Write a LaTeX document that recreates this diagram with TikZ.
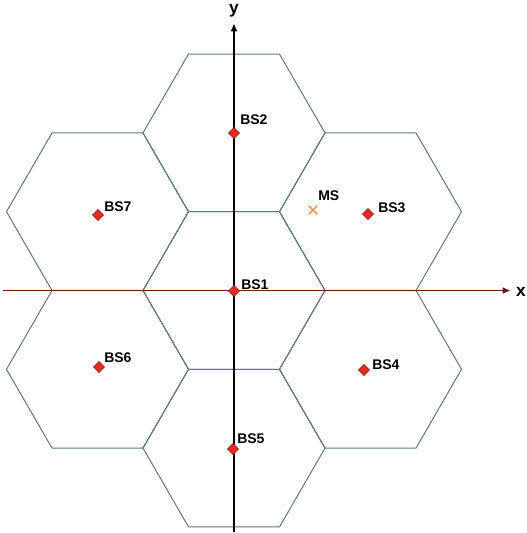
\documentclass[tikz,border=0pt]{standalone}
\usepackage{fontspec}
\setmainfont{Liberation Sans}
\usepackage{tikz}
\usetikzlibrary{positioning,arrows.meta,calc,shapes.geometric,shapes.misc}

\definecolor{hexgray}{RGB}{95,118,132}
\definecolor{axisred}{RGB}{100,32,28}
\definecolor{bsred}{RGB}{225,45,35}
\definecolor{msorange}{RGB}{245,150,100}

\begin{document}
\begin{tikzpicture}[x=0.75pt,y=-0.75pt,
        cell/.style={draw=hexgray, line width=0.75pt, line join=miter},
        axis/.style={-{Triangle[length=5.5pt,width=4.5pt]}, line width=0.9pt},
        bs/.style={diamond, draw=bsred!65!black, fill=bsred, minimum size=8.5pt, inner sep=0pt, line width=0.4pt},
        ms/.style={cross out, draw=msorange, minimum size=5pt, inner sep=0pt, line width=1.2pt},
        lbl/.style={font=\bfseries\fontsize{10.5}{12}\selectfont, inner sep=0pt, anchor=west},
        axlbl/.style={font=\bfseries\fontsize{13}{15}\selectfont, inner sep=0pt}
    ]
    \useasboundingbox (0,0) rectangle (526,533);
    % hexagonal cells
    \foreach \name/\cx/\cy in {c1/234/290.5, c2/234/132.9, c3/370.5/211.7, c4/370.5/369.3,
                               c5/234/448.1, c6/97.5/369.3, c7/97.5/211.7} {
        \coordinate (\name) at (\cx,\cy);
        \draw[cell] (\name) +(0:91) -- +(60:91) -- +(120:91) -- +(180:91) -- +(240:91) -- +(300:91) -- cycle;
    }
    % axes
    \coordinate (xs) at (3,290.5);
    \coordinate (xe) at (510,290.5);
    \coordinate (ys) at (234,532);
    \coordinate (ye) at (234,24);
    \draw[axis, axisred] (xs) -- (xe);
    \draw[axis, black] (ys) -- (ye);
    \node[axlbl] (xl) at (521,292) {x};
    \node[axlbl] (yl) at (234,11) {y};
    % base stations
    \foreach \name/\px/\py/\dx/\dy/\lab in {bs1/234/291/7/-6/BS1, bs2/234/133/6/-13/BS2,
                                            bs3/368/214/10/-6/BS3, bs4/364/370/8/-5/BS4,
                                            bs5/233/449/4/-10/BS5, bs6/99/367/5/-9/BS6,
                                            bs7/98/215/6/-8/BS7} {
        \node[bs] (\name) at (\px,\py) {};
        \node[lbl] (\name-lab) at ($(\name)+(\dx,\dy)$) {\lab};
    }
    % mobile station
    \node[ms] (ms) at (313,210) {};
    \node[lbl] (ms-lab) at ($(ms)+(5,-14)$) {MS};
\end{tikzpicture}
\end{document}
